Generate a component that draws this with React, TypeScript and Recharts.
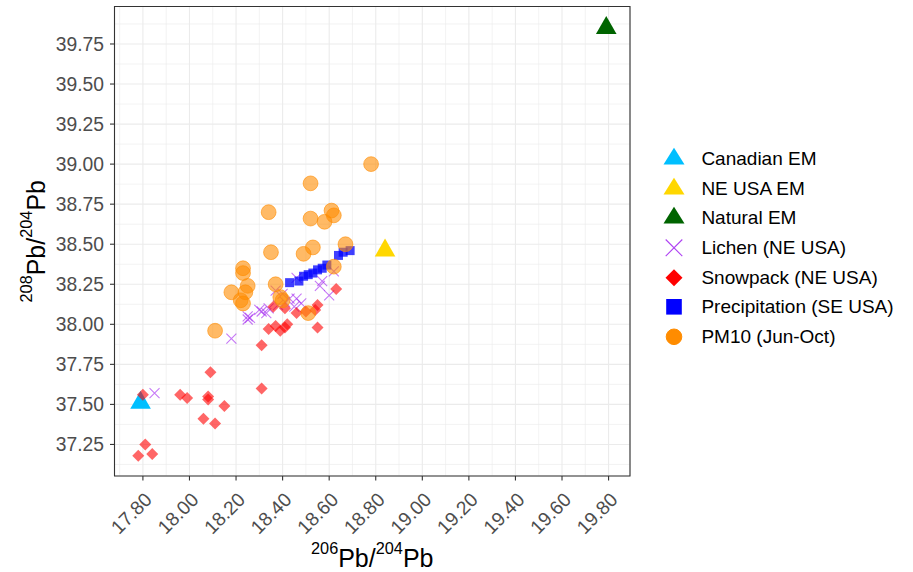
import { ScatterChart, Scatter, XAxis, YAxis, CartesianGrid, ReferenceArea, Legend } from 'recharts';

const FONT = '"Liberation Sans", Arial, sans-serif';

// axis ticks (major ones carry labels, minor ones only grid lines)
const xTicks = [17.8, 18.0, 18.2, 18.4, 18.6, 18.8, 19.0, 19.2, 19.4, 19.6, 19.8];
const xMinorTicks = [17.7, 17.9, 18.1, 18.3, 18.5, 18.7, 18.9, 19.1, 19.3, 19.5, 19.7];
const yTicks = [37.25, 37.5, 37.75, 38.0, 38.25, 38.5, 38.75, 39.0, 39.25, 39.5, 39.75];
const yMinorTicks = [37.125, 37.375, 37.625, 37.875, 38.125, 38.375, 38.625, 38.875, 39.125, 39.375, 39.625, 39.875];
const xDomain = [17.678, 19.892];
const yDomain = [37.053, 39.984];

// [206Pb/204Pb, 208Pb/204Pb]
const canadianEM = [[17.79, 37.51]];
const neUsaEM = [[18.84, 38.46]];
const naturalEM = [[19.79, 39.85]];

const lichen = [
    [17.85, 37.57], [18.18, 37.91], [18.25, 38.03], [18.25, 38.05], [18.26, 38.04],
    [18.30, 38.09], [18.31, 38.08], [18.33, 38.07], [18.34, 38.10], [18.37, 38.21],
    [18.38, 38.12], [18.40, 38.19], [18.41, 38.14], [18.43, 38.16], [18.45, 38.11],
    [18.46, 38.16], [18.46, 38.29], [18.48, 38.13], [18.56, 38.24], [18.57, 38.27],
    [18.60, 38.18], [18.62, 38.33],
];

const snowpack = [
    [17.78, 37.18], [17.81, 37.25], [17.84, 37.19], [17.80, 37.56], [17.96, 37.56],
    [17.99, 37.54], [18.08, 37.55], [18.08, 37.53], [18.09, 37.70], [18.15, 37.49],
    [18.06, 37.41], [18.11, 37.38], [18.31, 37.60], [18.31, 37.87], [18.34, 37.97],
    [18.37, 37.99], [18.39, 37.96], [18.41, 37.98], [18.42, 38.00], [18.36, 38.11],
    [18.41, 38.10], [18.46, 38.07], [18.50, 38.08], [18.54, 38.09], [18.55, 38.12],
    [18.55, 37.98], [18.63, 38.22],
];

const precipitation = [
    [18.43, 38.26], [18.47, 38.27], [18.49, 38.30], [18.51, 38.31], [18.53, 38.32],
    [18.55, 38.34], [18.57, 38.35], [18.59, 38.37], [18.64, 38.43], [18.66, 38.45],
    [18.69, 38.46],
];

const pm10 = [
    [18.78, 39.00], [18.52, 38.88], [18.34, 38.70], [18.61, 38.71], [18.62, 38.68],
    [18.52, 38.66], [18.58, 38.64], [18.67, 38.50], [18.53, 38.48], [18.49, 38.44],
    [18.35, 38.45], [18.62, 38.36], [18.23, 38.35], [18.23, 38.32], [18.25, 38.24],
    [18.24, 38.20], [18.18, 38.20], [18.22, 38.15], [18.23, 38.13], [18.37, 38.25],
    [18.39, 38.17], [18.40, 38.15], [18.51, 38.07], [18.11, 37.96],
];

const series = [
    { name: 'Canadian EM', points: canadianEM, kind: 'triangle', color: '#00BFFF' },
    { name: 'NE USA EM', points: neUsaEM, kind: 'triangle', color: '#FFD700' },
    { name: 'Natural EM', points: naturalEM, kind: 'triangle', color: '#006400' },
    { name: 'Lichen (NE USA)', points: lichen, kind: 'cross', color: '#A020F0' },
    { name: 'Snowpack (NE USA)', points: snowpack, kind: 'diamond', color: '#FF0000' },
    { name: 'Precipitation (SE USA)', points: precipitation, kind: 'square', color: '#0000FF' },
    { name: 'PM10 (Jun-Oct)', points: pm10, kind: 'circle', color: '#FF8C00' },
];

const marker = (kind: string, color: string, cx: number, cy: number, inLegend = false) => {
    switch (kind) {
        case 'triangle': {
            const w = inLegend ? 10.5 : 10.3;
            const up = inLegend ? 11 : 12;
            const down = inLegend ? 5.7 : 6;
            return <path d={`M${cx},${cy - up}L${cx + w},${cy + down}L${cx - w},${cy + down}Z`} fill={color} />;
        }
        case 'cross': {
            const s = inLegend ? 8.3 : 5;
            return (
                <path
                    d={`M${cx - s},${cy - s}L${cx + s},${cy + s}M${cx - s},${cy + s}L${cx + s},${cy - s}`}
                    stroke={color}
                    strokeOpacity={inLegend ? 0.85 : 0.6}
                    strokeWidth={1.1}
                    fill="none"
                />
            );
        }
        case 'diamond': {
            const s = inLegend ? 8.5 : 6;
            return (
                <path
                    d={`M${cx},${cy - s}L${cx + s},${cy}L${cx},${cy + s}L${cx - s},${cy}Z`}
                    fill={color}
                    fillOpacity={inLegend ? 1 : 0.6}
                />
            );
        }
        case 'square': {
            const s = inLegend ? 7.8 : 4.5;
            return <rect x={cx - s} y={cy - s} width={2 * s} height={2 * s} fill={color} fillOpacity={inLegend ? 1 : 0.75} />;
        }
        default:
            return (
                <circle
                    cx={cx}
                    cy={cy}
                    r={inLegend ? 7.8 : 7.4}
                    fill={color}
                    fillOpacity={inLegend ? 1 : 0.6}
                    stroke={color}
                    strokeOpacity={inLegend ? 1 : 0.6}
                    strokeWidth={1}
                />
            );
    }
};

const XTick = ({ x, y, payload }: any) => {
    const bx = x + 10.3;
    const by = y + 18.5;
    return (
        <text
            x={bx}
            y={by}
            transform={`rotate(-45 ${bx} ${by})`}
            textAnchor="end"
            fill="#4D4D4D"
            fontSize={19.3}
            fontFamily={FONT}
        >
            {Number(payload.value).toFixed(2)}
        </text>
    );
};

const XTitle = ({ viewBox }: any) => {
    const cx = viewBox.x + viewBox.width / 2;
    const by = viewBox.y + 90.7;
    return (
        <text x={cx} y={by} textAnchor="middle" fill="#000" fontFamily={FONT} fontSize={25}>
            <tspan fontSize={16.3} dy={-13.2}>206</tspan>
            <tspan dy={13.2}>Pb/</tspan>
            <tspan fontSize={16.3} dy={-13.2}>204</tspan>
            <tspan dy={13.2}>Pb</tspan>
        </text>
    );
};

const YTitle = ({ viewBox }: any) => {
    const bx = viewBox.x + 30.5;
    const cy = viewBox.y + viewBox.height / 2;
    return (
        <text
            x={bx}
            y={cy}
            transform={`rotate(-90 ${bx} ${cy})`}
            textAnchor="middle"
            fill="#000"
            fontFamily={FONT}
            fontSize={25}
        >
            <tspan fontSize={16.3} dy={-13.2}>208</tspan>
            <tspan dy={13.2}>Pb/</tspan>
            <tspan fontSize={16.3} dy={-13.2}>204</tspan>
            <tspan dy={13.2}>Pb</tspan>
        </text>
    );
};

const LegendBox = () => (
    <div style={{ fontFamily: FONT, fontSize: 19, color: '#000' }}>
        {series.map((s) => (
            <div key={s.name} style={{ display: 'flex', alignItems: 'center', height: 29.6, lineHeight: '29.6px' }}>
                <svg width={24} height={29.6} style={{ display: 'block', flex: 'none' }}>
                    {marker(s.kind, s.color, 12, 14.8, true)}
                </svg>
                <span style={{ marginLeft: 15.4, whiteSpace: 'nowrap' }}>{s.name}</span>
            </div>
        ))}
    </div>
);

export default function App() {
    return (
        <div style={{ position: 'absolute', left: 0, top: 0, width: 913, height: 572, background: '#fff' }}>
            <ScatterChart width={913} height={572} margin={{ top: 6.5, right: 283, bottom: 6, left: 14.5 }}>
                <XAxis xAxisId="minor" type="number" dataKey="x" domain={xDomain} ticks={xMinorTicks} allowDataOverflow hide />
                <YAxis yAxisId="minor" type="number" dataKey="y" domain={yDomain} ticks={yMinorTicks} allowDataOverflow hide />
                <CartesianGrid xAxisId="minor" yAxisId="minor" stroke="#EBEBEB" strokeWidth={0.6} />
                <CartesianGrid stroke="#EBEBEB" strokeWidth={1.1} />
                <XAxis
                    type="number"
                    dataKey="x"
                    domain={xDomain}
                    ticks={xTicks}
                    allowDataOverflow
                    interval={0}
                    height={90}
                    axisLine={false}
                    tickLine={{ stroke: '#333333', strokeWidth: 1.1 }}
                    tickSize={4.5}
                    tickMargin={2}
                    tick={<XTick />}
                    label={<XTitle />}
                />
                <YAxis
                    type="number"
                    dataKey="y"
                    domain={yDomain}
                    ticks={yTicks}
                    allowDataOverflow
                    interval={0}
                    width={100}
                    axisLine={false}
                    tickLine={{ stroke: '#333333', strokeWidth: 1.1 }}
                    tickSize={4.5}
                    tickMargin={6}
                    tick={{ fill: '#4D4D4D', fontSize: 19.3, fontFamily: FONT }}
                    tickFormatter={(v: number) => v.toFixed(2)}
                    label={<YTitle />}
                />
                {series.map((s) => (
                    <Scatter
                        key={s.name}
                        name={s.name}
                        data={s.points.map(([x, y]) => ({ x, y }))}
                        isAnimationActive={false}
                        shape={(p: any) => marker(s.kind, s.color, p.cx, p.cy)}
                    />
                ))}
                <ReferenceArea
                    x1={xDomain[0]}
                    x2={xDomain[1]}
                    y1={yDomain[0]}
                    y2={yDomain[1]}
                    fill="none"
                    stroke="#333333"
                    strokeWidth={1.1}
                    ifOverflow="visible"
                />
                <Legend
                    layout="vertical"
                    align="center"
                    verticalAlign="middle"
                    wrapperStyle={{ left: 662, top: 144.2, width: 250 }}
                    content={() => <LegendBox />}
                />
            </ScatterChart>
        </div>
    );
}
